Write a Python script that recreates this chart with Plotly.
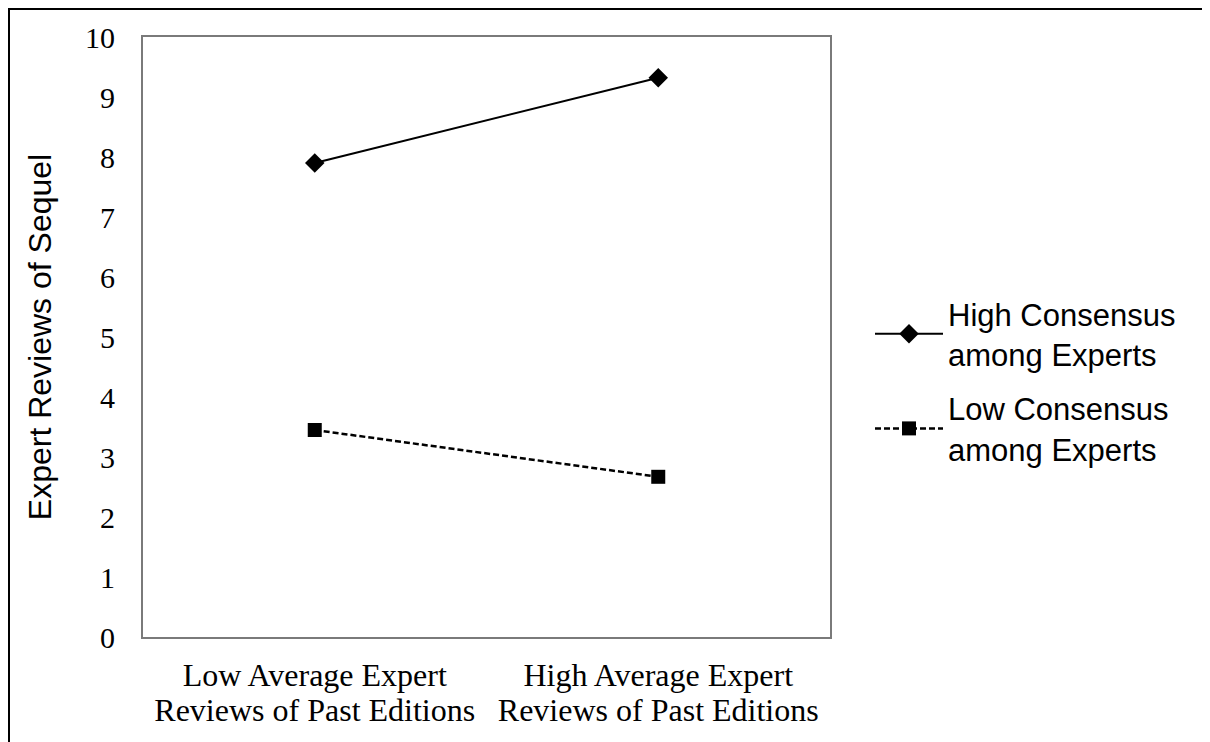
import plotly.graph_objects as go

cat_line1 = ["Low Average Expert", "High Average Expert"]
cat_line2 = ["Reviews of Past Editions", "Reviews of Past Editions"]
high_consensus = [7.9, 9.32]
low_consensus = [3.45, 2.67]
series_names = ["High Consensus<br>among Experts", "Low Consensus<br>among Experts"]
y_ticks = list(range(0, 11))

OFF = 8  # page body margin
W, H = 1210 - OFF, 742 - OFF
L, T = 143 - OFF, 37 - OFF
pw, ph = 687, 600
R, B = W - L - pw, H - T - ph

def px_x(px):
    # px in reference page coords
    return (px - OFF - L) / pw

def px_y(py):
    return (T + ph - (py - OFF)) / ph

fig = go.Figure()
fig.add_trace(go.Scatter(
    x=[0, 1], y=high_consensus, name=series_names[0], mode="lines+markers",
    legendgroup="a",
    line=dict(color="black", width=2),
    marker=dict(symbol="diamond", size=15, color="black"),
))
fig.add_trace(go.Scatter(
    x=[0, 1], y=low_consensus, name=series_names[1], mode="lines+markers",
    legendgroup="b",
    line=dict(color="black", width=2.5, dash="6px,3px"),
    marker=dict(symbol="square", size=14, color="black"),
))
# invisible trace to carry the second line of category labels
fig.add_trace(go.Scatter(x=[0, 1], y=[None, None], xaxis="x2", showlegend=False,
                         hoverinfo="skip"))

axis_line = dict(showline=True, linecolor="#7a7a7a", linewidth=2, mirror=True,
                 showgrid=False, zeroline=False, ticks="")
tick_font = dict(family="Liberation Serif", size=32, color="black")

fig.update_layout(
    xaxis=dict(range=[-0.5, 1.5], tickvals=[0, 1], ticktext=cat_line1,
               tickfont=tick_font, ticklabelstandoff=9, **axis_line),
    xaxis2=dict(range=[-0.5, 1.5], tickvals=[0, 1], ticktext=cat_line2,
                tickfont=tick_font, ticklabelstandoff=51, overlaying="x",
                anchor="y", side="bottom", showline=False, showgrid=False,
                zeroline=False, ticks=""),
    yaxis=dict(range=[0, 10], tickvals=y_ticks,
               tickfont=dict(family="Liberation Serif", size=30, color="black"),
               ticklabelstandoff=20,
               title=dict(text="Expert Reviews of Sequel",
                          font=dict(family="Liberation Sans", size=32, color="black"),
                          standoff=24),
               **axis_line),
    width=W, height=H,
    margin=dict(l=L, r=R, t=T, b=B, autoexpand=False),
    paper_bgcolor="white", plot_bgcolor="white",
    showlegend=True,
    legend=dict(x=px_x(870), y=px_y(287), xanchor="left", yanchor="top",
                font=dict(family="Liberation Sans", size=31, color="black"),
                bgcolor="rgba(0,0,0,0)", traceorder="grouped",
                tracegroupgap=11, itemwidth=68),
    shapes=[
        dict(type="line", xref="paper", yref="paper",
             x0=px_x(8.5), x1=px_x(8.5), y0=px_y(7), y1=px_y(742),
             line=dict(color="black", width=3)),
        dict(type="line", xref="paper", yref="paper",
             x0=px_x(7), x1=px_x(1210), y0=px_y(8.5), y1=px_y(8.5),
             line=dict(color="black", width=3)),
    ],
)

fig.write_html("out.html")
